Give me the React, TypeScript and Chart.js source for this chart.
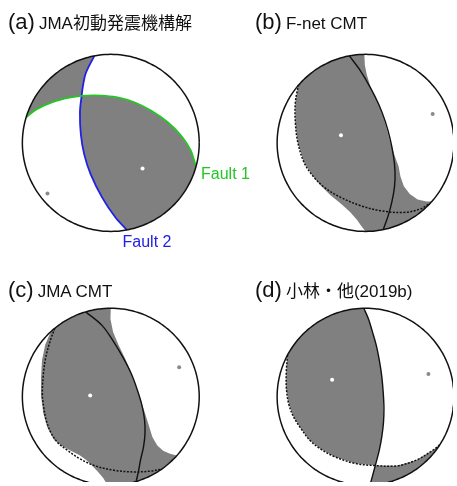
import React, { useEffect, useRef } from "react";
import { Chart, registerables } from "chart.js";

Chart.register(...registerables);

type Pt = [number, number];

// ---------- (a) JMA first-motion mechanism (unit-sphere projection coords) ----------
const A_CROSS: Pt = [-0.33, 0.532];
const A_FAULT1: Pt[] = [
  [-0.956, 0.289], [-0.838, 0.381], [-0.652, 0.463], [-0.467, 0.511], A_CROSS,
  [-0.2, 0.537], [-0.097, 0.533], [0.089, 0.511], [0.273, 0.456], [0.459, 0.363],
  [0.644, 0.233], [0.792, 0.086], [0.903, -0.081], [0.962, -0.262],
];
const A_FAULT2: Pt[] = [
  [-0.186, 0.983], [-0.282, 0.789], [-0.313, 0.655], A_CROSS, [-0.349, 0.344],
  [-0.338, 0.089], [-0.3, -0.133], [-0.227, -0.356], [-0.097, -0.619],
  [0.051, -0.841], [0.181, -0.983],
];
const A_T_AXIS: Pt[] = [[0.359, -0.289]];
const A_P_AXIS: Pt[] = [[-0.716, -0.572]];

// ---------- (b) F-net CMT ----------
const B_SOLID: Pt[] = [
  [-0.183, 0.983], [-0.056, 0.811], [0.056, 0.622], [0.15, 0.433], [0.222, 0.244],
  [0.278, 0.044], [0.317, -0.156], [0.333, -0.322], [0.328, -0.489], [0.3, -0.656],
  [0.256, -0.822], [0.2, -0.98],
];
const B_DASH: Pt[] = [
  [-0.759, 0.659], [-0.794, 0.456], [-0.794, 0.233], [-0.767, 0.011], [-0.7, -0.211],
  [-0.608, -0.359], [-0.459, -0.508], [-0.274, -0.619], [-0.052, -0.711], [0.17, -0.767],
  [0.43, -0.786], [0.614, -0.748], [0.726, -0.686],
];
const B_EDGE_E: Pt[] = [
  [-0.014, 1.0], [-0.008, 0.881], [0.014, 0.77], [0.059, 0.622], [0.133, 0.474],
  [0.189, 0.326], [0.233, 0.178], [0.278, 0.011], [0.333, -0.156], [0.374, -0.267],
  [0.394, -0.378], [0.433, -0.489], [0.5, -0.578], [0.589, -0.639], [0.689, -0.661],
  [0.749, -0.663],
];
const B_EDGE_W: Pt[] = [
  [-0.759, 0.659], [-0.794, 0.456], [-0.794, 0.233], [-0.767, 0.011], [-0.7, -0.211],
  [-0.608, -0.359], [-0.511, -0.478], [-0.4, -0.589], [-0.278, -0.689], [-0.178, -0.778],
  [-0.1, -0.867], [-0.044, -0.944], [0, -1],
];
const B_T_AXIS: Pt[] = [[-0.278, 0.086]];
const B_P_AXIS: Pt[] = [[0.759, 0.326]];

// ---------- (c) JMA CMT ----------
const C_SOLID: Pt[] = [
  [-0.284, 0.959], [-0.097, 0.803], [0.033, 0.619], [0.144, 0.433], [0.237, 0.248],
  [0.303, 0.067], [0.353, -0.1], [0.381, -0.256], [0.387, -0.411], [0.37, -0.567],
  [0.337, -0.711], [0.315, -0.833], [0.287, -0.958],
];
const C_DASH: Pt[] = [
  [-0.633, 0.774], [-0.689, 0.619], [-0.738, 0.433], [-0.763, 0.248], [-0.774, 0.026],
  [-0.758, -0.122], [-0.73, -0.267], [-0.674, -0.411], [-0.597, -0.522], [-0.497, -0.6],
  [-0.356, -0.697], [-0.171, -0.783], [0.051, -0.833], [0.273, -0.85], [0.459, -0.839],
  [0.577, -0.817],
];
const C_EDGE_E: Pt[] = [
  [0, 1], [-0.004, 0.878], [0.026, 0.73], [0.089, 0.581], [0.162, 0.433],
  [0.218, 0.303], [0.27, 0.156], [0.32, 0.011], [0.378, -0.159], [0.426, -0.311],
  [0.47, -0.456], [0.526, -0.55], [0.592, -0.611], [0.67, -0.644], [0.746, -0.665],
];
const C_EDGE_W: Pt[] = [
  [-0.674, 0.744], [-0.741, 0.589], [-0.778, 0.411], [-0.789, 0.211], [-0.786, -0.011],
  [-0.763, -0.189], [-0.719, -0.344], [-0.641, -0.489], [-0.541, -0.561], [-0.441, -0.617],
  [-0.352, -0.661], [-0.274, -0.717], [-0.208, -0.783], [-0.141, -0.852], [-0.086, -0.919],
  [-0.036, -0.999],
];
const C_T_AXIS: Pt[] = [[-0.233, 0.014]];
const C_P_AXIS: Pt[] = [[0.773, 0.333]];

// ---------- (d) Kobayashi et al. (2019b) ----------
const D_CROSS: Pt = [0.11, -0.778];
const D_SOLID: Pt[] = [
  [-0.02, 1.0], [0.033, 0.878], [0.078, 0.733], [0.122, 0.578], [0.156, 0.411],
  [0.183, 0.233], [0.2, 0.044], [0.208, -0.122], [0.203, -0.289], [0.183, -0.456],
  [0.156, -0.6], [0.122, -0.733], D_CROSS, [0.089, -0.856], [0.05, -0.999],
];
const D_DASH: Pt[] = [
  [-0.883, 0.469], [-0.897, 0.267], [-0.894, 0.078], [-0.867, -0.089], [-0.811, -0.233],
  [-0.733, -0.356], [-0.633, -0.489], [-0.511, -0.589], [-0.348, -0.678], [-0.126, -0.752],
  D_CROSS, [0.356, -0.781], [0.578, -0.714], [0.763, -0.603], [0.839, -0.544],
];
const D_T_AXIS: Pt[] = [[-0.378, 0.192]];
const D_P_AXIS: Pt[] = [[0.711, 0.256]];

// ---------- layout / style ----------
const W = 457;
const H = 486;
const R = 90;
const CENTERS: Record<string, [number, number]> = {
  a: [108.7, 141.2],
  b: [368, 141.2],
  c: [108.7, 399.3],
  d: [368, 399.3],
};
const GRAY = "#808080";
const GREEN = "#22c822";
const BLUE = "#2020e6";
const FONT = "'Liberation Sans', Arial, 'Noto Sans CJK JP', sans-serif";

function arcCW(from: Pt, to: Pt, stepDeg = 2): Pt[] {
  const a0 = Math.atan2(from[1], from[0]);
  let a1 = Math.atan2(to[1], to[0]);
  while (a1 > a0) a1 -= 2 * Math.PI;
  const n = Math.max(1, Math.ceil((a0 - a1) / ((stepDeg * Math.PI) / 180)));
  const out: Pt[] = [];
  for (let i = 1; i < n; i++) {
    const a = a0 - ((a0 - a1) * i) / n;
    out.push([Math.cos(a), Math.sin(a)]);
  }
  return out;
}
const last = (p: Pt[]) => p[p.length - 1];
const xy = (pts: Pt[]) => pts.map(([x, y]) => ({ x, y }));

function fillSet(k: string, pts: Pt[]) {
  return {
    data: xy(pts), xAxisID: "x" + k, yAxisID: "y" + k, showLine: true,
    fill: "shape", backgroundColor: GRAY, borderColor: "rgba(0,0,0,0)", borderWidth: 0,
    pointRadius: 0, tension: 0, order: 5,
  };
}
function lineSet(k: string, pts: Pt[], color: string, width: number, dash: number[] = [], order = 3) {
  return {
    data: xy(pts), xAxisID: "x" + k, yAxisID: "y" + k, showLine: true, fill: false,
    borderColor: color, borderWidth: width, borderDash: dash, pointRadius: 0,
    tension: 0.35, order,
  };
}
function dotSet(k: string, pts: Pt[], color: string) {
  return {
    data: xy(pts), xAxisID: "x" + k, yAxisID: "y" + k, showLine: false,
    pointRadius: 2, pointBackgroundColor: color, pointBorderWidth: 0,
    backgroundColor: color, borderColor: color, order: 0,
  };
}

function buildDatasets() {
  const circle: Pt[] = [];
  for (let d = 0; d <= 360; d += 2) {
    const a = (d * Math.PI) / 180;
    circle.push([Math.cos(a), Math.sin(a)]);
  }
  const ds: any[] = [];

  // (a)
  const i1 = A_FAULT1.indexOf(A_CROSS);
  const i2 = A_FAULT2.indexOf(A_CROSS);
  const a1: Pt[] = [A_FAULT1[0], ...arcCW(A_FAULT1[0], A_FAULT2[0]), ...A_FAULT2.slice(0, i2 + 1), ...A_FAULT1.slice(0, i1).reverse()];
  const a2: Pt[] = [...A_FAULT1.slice(i1), ...arcCW(last(A_FAULT1), last(A_FAULT2)), ...A_FAULT2.slice(i2).reverse()];
  ds.push(fillSet("a", a1), fillSet("a", a2));
  ds.push(lineSet("a", A_FAULT1, GREEN, 1.8), lineSet("a", A_FAULT2, BLUE, 1.8));
  ds.push(lineSet("a", circle, "#111", 1.5, [], 1));
  ds.push(dotSet("a", A_T_AXIS, "#ffffff"), dotSet("a", A_P_AXIS, "#8a8a8a"));

  // (b) and (c)
  const bc: [string, Pt[], Pt[], Pt[], Pt[], Pt[], Pt[]][] = [
    ["b", B_EDGE_W, B_EDGE_E, B_SOLID, B_DASH, B_T_AXIS, B_P_AXIS],
    ["c", C_EDGE_W, C_EDGE_E, C_SOLID, C_DASH, C_T_AXIS, C_P_AXIS],
  ];
  for (const [k, ew, ee, solid, dash, t, p] of bc) {
    const poly: Pt[] = [ew[0], ...arcCW(ew[0], ee[0]), ...ee, ...arcCW(last(ee), last(ew)), ...ew.slice().reverse()];
    ds.push(fillSet(k, poly));
    ds.push(lineSet(k, solid, "#111", 1.4));
    ds.push(lineSet(k, dash, "#111", 1.5, [2, 1.5]));
    ds.push(lineSet(k, circle, "#111", 1.5, [], 1));
    ds.push(dotSet(k, t, "#ffffff"), dotSet(k, p, "#8a8a8a"));
  }

  // (d)
  const js = D_SOLID.indexOf(D_CROSS);
  const jd = D_DASH.indexOf(D_CROSS);
  const d1: Pt[] = [D_DASH[0], ...arcCW(D_DASH[0], D_SOLID[0]), ...D_SOLID.slice(0, js + 1), ...D_DASH.slice(0, jd).reverse()];
  const d2: Pt[] = [...D_DASH.slice(jd), ...arcCW(last(D_DASH), last(D_SOLID)), ...D_SOLID.slice(js).reverse()];
  ds.push(fillSet("d", d1), fillSet("d", d2));
  ds.push(lineSet("d", D_SOLID, "#111", 1.4));
  ds.push(lineSet("d", D_DASH, "#111", 1.5, [2, 1.5]));
  ds.push(lineSet("d", circle, "#111", 1.5, [], 1));
  ds.push(dotSet("d", D_T_AXIS, "#ffffff"), dotSet("d", D_P_AXIS, "#8a8a8a"));
  return ds;
}

function buildScales() {
  const scales: any = {
    x: { type: "linear", display: false },
    y: { type: "linear", display: false },
  };
  for (const k of Object.keys(CENTERS)) {
    const [cx, cy] = CENTERS[k];
    scales["x" + k] = { type: "linear", axis: "x", display: false, min: -cx / R, max: (W - cx) / R };
    scales["y" + k] = { type: "linear", axis: "y", display: false, min: (cy - H) / R, max: cy / R };
  }
  return scales;
}

export default function App() {
  const ref = useRef<HTMLCanvasElement>(null);
  useEffect(() => {
    const chart = new Chart(ref.current as HTMLCanvasElement, {
      type: "scatter",
      data: { datasets: buildDatasets() },
      options: {
        responsive: false,
        animation: false,
        devicePixelRatio: 1,
        events: [],
        layout: { padding: 0 },
        plugins: { legend: { display: false }, tooltip: { enabled: false }, title: { display: false } },
        scales: buildScales(),
      } as any,
    });
    return () => chart.destroy();
  }, []);

  const title = (x: number, y: number, tag: string, label: string) => (
    <text x={x} y={y} fontFamily={FONT} fill="#111">
      <tspan fontSize={22}>{tag}</tspan>
      <tspan fontSize={17} dx={4}>{label}</tspan>
    </text>
  );

  return (
    <div style={{ position: "fixed", left: 0, top: 0, width: W, height: H, overflow: "hidden", background: "#fff" }}>
      <canvas ref={ref} width={W} height={H} style={{ position: "absolute", left: 0, top: 0, width: W, height: H }} />
      <svg width={W} height={H} style={{ position: "absolute", left: 0, top: 0 }}>
        {title(8, 28.5, "(a)", "JMA初動発震機構解")}
        {title(255, 28.5, "(b)", "F-net CMT")}
        {title(8, 297, "(c)", "JMA CMT")}
        {title(255, 297, "(d)", "小林・他(2019b)")}
        <text x={201} y={179.3} fontFamily={FONT} fontSize={16} fill={GREEN}>Fault 1</text>
        <text x={122.5} y={246.5} fontFamily={FONT} fontSize={16} fill={BLUE}>Fault 2</text>
      </svg>
    </div>
  );
}
